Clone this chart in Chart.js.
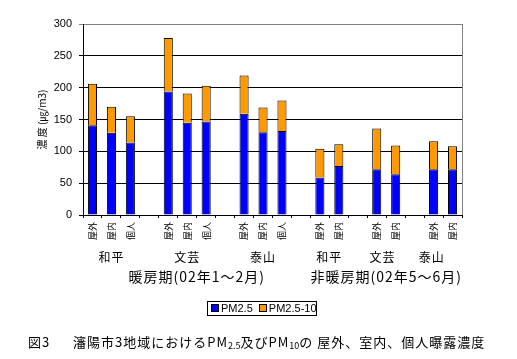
<!DOCTYPE html>
<html>
<head>
<meta charset="utf-8">
<script src="https://cdn.jsdelivr.net/npm/chart.js@4"></script>
<style>
  body { margin: 0; background: #fff; }
  #wrap { position: relative; width: 517px; height: 359px; font-family: "Noto Sans CJK JP", sans-serif; }
  #c { position: absolute; left: 0; top: 0; }
  #legend { position: absolute; left: 207px; top: 301px; width: 108px; height: 13px; border: 1px solid #000;
            font: 11px "Liberation Sans", sans-serif; line-height: 13px; white-space: nowrap; }
  #legend span.sw { display: inline-block; width: 6px; height: 6px; border: 1px solid #000; margin: 0 2px 0 3px; vertical-align: 0px; }
  .cap { position: absolute; top: 334px; font-size: 13px; line-height: 16px; white-space: pre; letter-spacing: 1px; }
  .cap sub { font-size: 9px; vertical-align: -2px; line-height: 0; letter-spacing: 0; }
</style>
</head>
<body>
<div id="wrap">
  <canvas id="c" width="517" height="359"></canvas>
  <div id="legend"><span class="sw" style="background:#0000ff"></span>PM2.5 <span class="sw" style="background:#ff9900"></span>PM2.5-10</div>
  <div class="cap" style="left:28px">図3</div>
  <div class="cap" style="left:73px">瀋陽市3地域におけるPM<sub>2.5</sub>及びPM<sub>10</sub>の 屋外、室内、個人曝露濃度</div>
</div>
<script>
// データ
const categories = ['屋外', '屋内', '個人', '', '屋外', '屋内', '個人', '', '屋外', '屋内', '個人', '',
                    '屋外', '屋内', '', '屋外', '屋内', '', '屋外', '屋内'];
const pm25   = [141, 129, 114, null, 194, 145, 147, null, 159, 130, 132, null, 59, 77, null, 72, 64, null, 72, 72];
const pm2510 = [65, 41, 41, null, 84, 46, 56, null, 60, 39, 48, null, 45, 34, null, 64, 45, null, 44, 36];
const yTicks = [0, 50, 100, 150, 200, 250, 300];
const groupLabels = ['和平', '文芸', '泰山', '和平', '文芸', '泰山'];
const groupCenters = [1, 5, 9, 12.5, 15.3, 17.9];
const periodLabels = ['暖房期(02年1～2月)', '非暖房期(02年5～6月)'];
const periodCenters = [5.5, 15.5];
const yTitle = '濃 度 (㎍/m3)';

// 追加テキスト（グループ名、期間、軸タイトル、枠）
const extras = {
    id: 'extras',
    afterDraw(chart) {
        const ctx = chart.ctx;
        const x = chart.scales.x;
        const a = chart.chartArea;
        ctx.save();
        // 右側の枠線
        ctx.strokeStyle = '#808080';
        ctx.lineWidth = 1;
        ctx.beginPath();
        ctx.moveTo(a.right + 0.5, a.top);
        ctx.lineTo(a.right + 0.5, a.bottom);
        ctx.stroke();

        ctx.fillStyle = '#000';
        ctx.textAlign = 'center';
        ctx.textBaseline = 'middle';
        ctx.font = '12px "Noto Sans CJK JP"';
        ctx.letterSpacing = '1px';
        groupLabels.forEach((t, i) => ctx.fillText(t, x.getPixelForValue(groupCenters[i]), 257));
        ctx.font = '14px "Noto Sans CJK JP"';
        periodLabels.forEach((t, i) => ctx.fillText(t, x.getPixelForValue(periodCenters[i]), 277));

        ctx.letterSpacing = '0px';
        ctx.translate(42, (a.top + a.bottom) / 2);
        ctx.rotate(-Math.PI / 2);
        ctx.font = '10px "Noto Sans CJK JP"';
        ctx.fillText(yTitle, 0, 0);
        ctx.restore();
    }
};

new Chart(document.getElementById('c'), {
    type: 'bar',
    data: {
        labels: categories,
        datasets: [
            { label: 'PM2.5', data: pm25, backgroundColor: '#0000ff', borderColor: '#000', borderWidth: 1 },
            { label: 'PM2.5-10', data: pm2510, backgroundColor: '#ff9900', borderColor: '#000', borderWidth: 1 }
        ]
    },
    options: {
        responsive: false,
        animation: false,
        layout: { padding: { left: 0, top: 24, right: 55, bottom: 0 } },
        plugins: { legend: { display: false }, tooltip: { enabled: false } },
        datasets: { bar: { categoryPercentage: 1, barPercentage: 0.48 } },
        scales: {
            x: {
                stacked: true,
                afterFit: (s) => { s.height = 144; },
                grid: { drawOnChartArea: false, drawTicks: true, tickLength: 3, color: '#000', offset: true },
                border: { color: '#000' },
                ticks: {
                    autoSkip: false, minRotation: 90, maxRotation: 90, padding: 4,
                    color: '#000', font: { family: 'Noto Sans CJK JP', size: 9 }
                }
            },
            y: {
                stacked: true,
                min: 0, max: 300,
                afterFit: (s) => { s.width = 83; },
                afterBuildTicks: (s) => { s.ticks = yTicks.map(v => ({ value: v })); },
                grid: { color: (c) => c.tick && c.tick.value === 300 ? '#808080' : '#000', tickLength: 4 },
                border: { color: '#000' },
                ticks: { color: '#000', padding: 7, font: { family: 'Liberation Sans', size: 11 } }
            }
        }
    },
    plugins: [extras]
});
</script>
</body>
</html>
